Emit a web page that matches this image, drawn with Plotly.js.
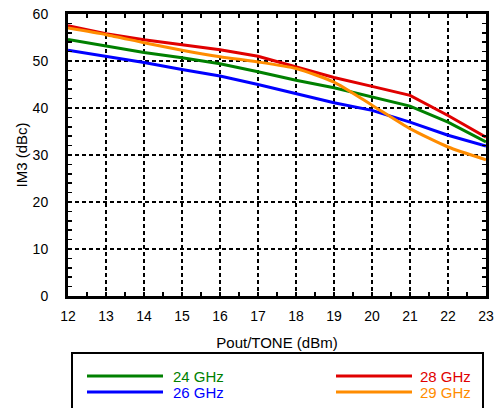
<!DOCTYPE html>
<html>
<head>
<meta charset="utf-8">
<script src="https://cdn.plot.ly/plotly-3.0.1.min.js"></script>
<style>html,body{margin:0;padding:0;background:#fff}#chart{width:494px;height:408px}</style>
</head>
<body>
<div id="chart"></div>
<script>
const pout = [12, 13, 14, 15, 16, 17, 18, 19, 20, 21, 22, 23];
const im3_24GHz = [54.6, 53.2, 51.8, 50.7, 49.4, 47.7, 45.9, 44.3, 42.3, 40.4, 37.0, 32.8];
const im3_26GHz = [52.3, 51.0, 49.7, 48.2, 46.8, 45.0, 43.1, 41.1, 39.5, 37.0, 34.2, 31.9];
const im3_28GHz = [57.5, 55.8, 54.5, 53.5, 52.4, 51.0, 48.7, 46.5, 44.6, 42.7, 38.4, 33.8];
const im3_29GHz = [57.0, 55.6, 53.9, 52.3, 50.9, 49.8, 48.4, 45.5, 40.6, 35.6, 31.7, 29.0];
const seriesNames = ['24 GHz', '26 GHz', '28 GHz', '29 GHz'];
const xTickVals = [12, 13, 14, 15, 16, 17, 18, 19, 20, 21, 22, 23];
const yTickVals = [0, 10, 20, 30, 40, 50, 60];

const colors = ['#008000', '#0000ff', '#e00000', '#ff8c00'];
const series = [im3_24GHz, im3_26GHz, im3_28GHz, im3_29GHz];
const shapesLine = ['linear', 'linear', 'linear', 'spline'];

const W = 494, H = 408;
const M = {l: 68, r: 8, t: 14, b: 112};
const pw = W - M.l - M.r, ph = H - M.t - M.b;
const px = x => (x - M.l) / pw;
const py = y => (H - M.b - y) / ph;

const traces = series.map((s, i) => ({
  x: pout, y: s, name: seriesNames[i], type: 'scatter', mode: 'lines',
  line: {color: colors[i], width: 3, shape: shapesLine[i], smoothing: 0.6},
  showlegend: false
}));

// manual legend
const legendPos = [
  {lx0: 87, lx1: 163, tx: 172, y: 376},
  {lx0: 87, lx1: 163, tx: 172, y: 392},
  {lx0: 336, lx1: 412, tx: 419, y: 376},
  {lx0: 336, lx1: 412, tx: 419, y: 392}
];
const shapes = [{
  type: 'rect', xref: 'paper', yref: 'paper',
  x0: px(72), x1: px(483), y0: py(353), y1: py(440),
  line: {color: '#000', width: 2}, fillcolor: 'rgba(0,0,0,0)'
}];
const annotations = [];
legendPos.forEach((p, i) => {
  shapes.push({type: 'line', xref: 'paper', yref: 'paper',
    x0: px(p.lx0), x1: px(p.lx1), y0: py(p.y), y1: py(p.y),
    line: {color: colors[i], width: 3}});
  annotations.push({xref: 'paper', yref: 'paper', x: px(p.tx), y: py(p.y),
    xanchor: 'left', yanchor: 'middle', showarrow: false, text: seriesNames[i],
    borderpad: 0, font: {color: colors[i], size: 15}});
});

const axisCommon = {
  showline: true, linecolor: '#000', linewidth: 3, mirror: 'allticks',
  ticks: 'inside', ticklen: 0, tickcolor: '#000',
  showgrid: true, gridcolor: '#000', gridwidth: 2, griddash: '4px,3px',
  zeroline: false, tickfont: {size: 14, color: '#000'}
};

const layout = {
  width: W, height: H, margin: M,
  paper_bgcolor: '#fff', plot_bgcolor: '#fff',
  font: {family: 'Liberation Sans, Arial, Helvetica, sans-serif', size: 14, color: '#000'},
  xaxis: Object.assign({}, axisCommon, {
    range: [12, 23], tickvals: xTickVals, ticklabelstandoff: 5,
    minor: {dtick: 0.5, ticks: 'inside', ticklen: 4, tickcolor: '#000', tickwidth: 1.5, showgrid: false},
    title: {text: 'Pout/TONE (dBm)', font: {size: 15}, standoff: 15}
  }),
  yaxis: Object.assign({}, axisCommon, {
    range: [0, 60], tickvals: yTickVals, ticklabelstandoff: 14,
    minor: {dtick: 2, ticks: 'inside', ticklen: 4, tickcolor: '#000', tickwidth: 1.5, showgrid: false},
    title: {text: 'IM3 (dBc)', font: {size: 15}, standoff: 2}
  }),
  shapes: shapes, annotations: annotations
};

Plotly.newPlot('chart', traces, layout, {displayModeBar: false, staticPlot: true});
</script>
</body>
</html>
